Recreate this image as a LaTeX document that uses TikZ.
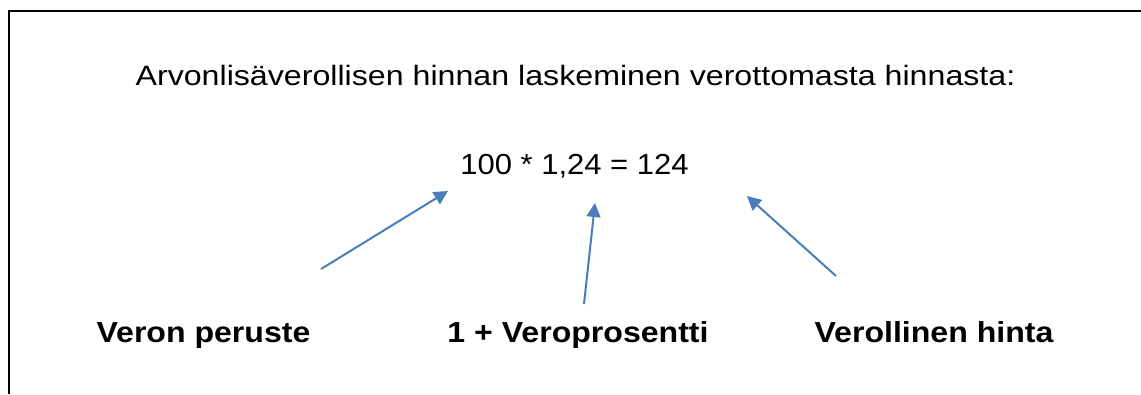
\documentclass[tikz,border=0pt]{standalone}
\usepackage{fontspec}
\setmainfont{Liberation Sans}
\newfontfamily\titlefont[FakeStretch=1.149]{Liberation Sans}
\newfontfamily\calcfont[FakeStretch=1.069]{Liberation Sans}
\newfontfamily\termfont[FakeStretch=1.106]{Liberation Sans}
\usetikzlibrary{arrows.meta}
\definecolor{arrowblue}{HTML}{4A7EBB}
\tikzset{
  frame/.style={line width=2.3pt, black},
  pointer/.style={line width=2pt, arrowblue, -{Triangle[length=14pt,width=14pt]}},
  title/.style={anchor=base, inner sep=0pt, font=\titlefont\fontsize{28}{32}\selectfont},
  formula/.style={anchor=base, inner sep=0pt, font=\calcfont\fontsize{29}{33}\selectfont},
  term/.style={anchor=base, inner sep=0pt, font=\termfont\bfseries\fontsize{29}{33}\selectfont}
}
\begin{document}
\begin{tikzpicture}[x=1pt,y=-1pt]
  \useasboundingbox[fill=white] (0,0) rectangle (1141,394);
  % open frame: top and left edges
  \draw[frame] (9.2,394) -- (9.2,11.2) -- (1141,11.2);

  \node[title] (head) at (575.5,85) {Arvonlisäverollisen hinnan laskeminen verottomasta hinnasta:};
  \node[formula] (calc) at (574.5,174) {100 * 1,24 = 124};

  \node[term] (base) at (203.5,342.5) {Veron peruste};
  \node[term] (rate) at (578,342.5) {1 + Veroprosentti};
  \node[term] (total) at (934,342.5) {Verollinen hinta};

  % arrow ends
  \coordinate (baseTail) at (321,269);
  \coordinate (baseTip) at (448,191);
  \coordinate (rateTail) at (584,304);
  \coordinate (rateTip) at (595,203);
  \coordinate (totalTail) at (836,276);
  \coordinate (totalTip) at (747,196);

  \draw[pointer] (baseTail) -- (baseTip);
  \draw[pointer] (rateTail) -- (rateTip);
  \draw[pointer] (totalTail) -- (totalTip);
\end{tikzpicture}
\end{document}
